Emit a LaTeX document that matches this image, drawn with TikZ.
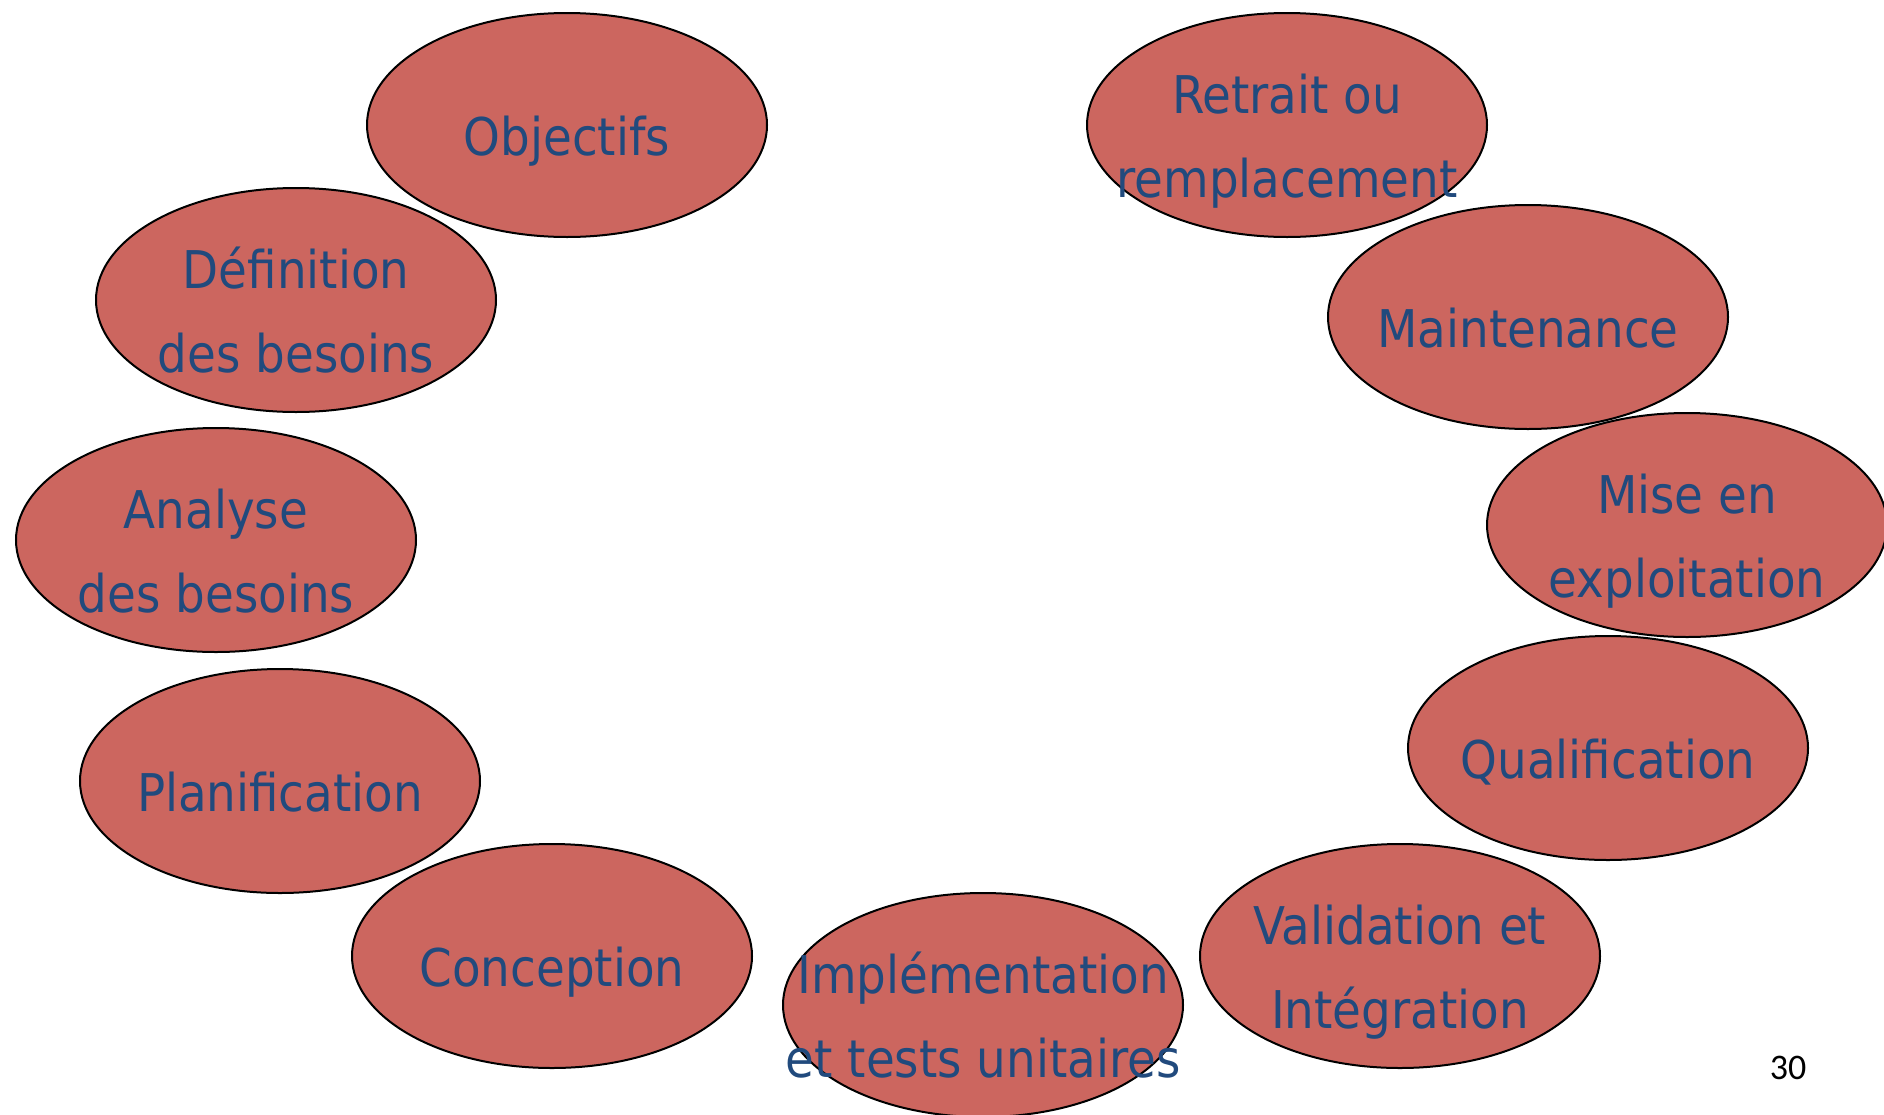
\documentclass[tikz,border=0pt]{standalone}
\usepackage{fontspec}
\setmainfont{DejaVu Sans Condensed}
\newfontfamily\pagefont{Carlito}
\usetikzlibrary{shapes.geometric}
\definecolor{phasefill}{RGB}{204,102,95}
\definecolor{phasetext}{RGB}{33,74,125}
\tikzset{
	phase/.style={ellipse, draw=black, line width=2pt, fill=phasefill,
		minimum width=400pt, minimum height=224pt, inner sep=0pt},
	phasetxt/.style={text=phasetext, font=\fontsize{52}{84}\selectfont,
		align=center, anchor=base, inner sep=0pt},
}
\begin{document}
\begin{tikzpicture}[x=1pt, y=-1pt]
	\useasboundingbox (0,0) rectangle (1884,1114);
	%left side
	\node[phase] (obj) at (567,125) {};
	\node[phase] (def) at (296,300) {};
	\node[phase] (ana) at (216,540) {};
	\node[phase] (pla) at (280,781) {};
	\node[phase] (con) at (552,956) {};
	\node[phase] (imp) at (983,1005) {};
	%right side
	\node[phase] (val) at (1400,956) {};
	\node[phase] (qua) at (1608,748) {};
	\node[phase] (mis) at (1687,525) {};
	\node[phase] (mai) at (1528,317) {};
	\node[phase] (ret) at (1287,125) {};
	
	%labels
	\node[phasetxt] (obj-t) at ([yshift=-30pt]obj.center) {Objectifs};
	\node[phasetxt] (def-t) at ([yshift=-72pt]def.center) {Définition\\des besoins};
	\node[phasetxt] (ana-t) at ([yshift=-72pt]ana.center) {Analyse\\des besoins};
	\node[phasetxt] (pla-t) at ([yshift=-30pt]pla.center) {Planification};
	\node[phasetxt] (con-t) at ([yshift=-30pt]con.center) {Conception};
	\node[phasetxt] (imp-t) at ([yshift=-72pt]imp.center) {Implémentation\\et tests unitaires};
	\node[phasetxt] (val-t) at ([yshift=-72pt]val.center) {Validation et\\Intégration};
	\node[phasetxt] (qua-t) at ([yshift=-30pt]qua.center) {Qualification};
	\node[phasetxt] (mis-t) at ([yshift=-72pt]mis.center) {Mise en\\exploitation};
	\node[phasetxt] (mai-t) at ([yshift=-30pt]mai.center) {Maintenance};
	\node[phasetxt] (ret-t) at ([yshift=-72pt]ret.center) {Retrait ou\\remplacement};
	
	\node[font=\pagefont\fontsize{36}{40}\selectfont] (page) at (1788,1068) {30};
\end{tikzpicture}
\end{document}
